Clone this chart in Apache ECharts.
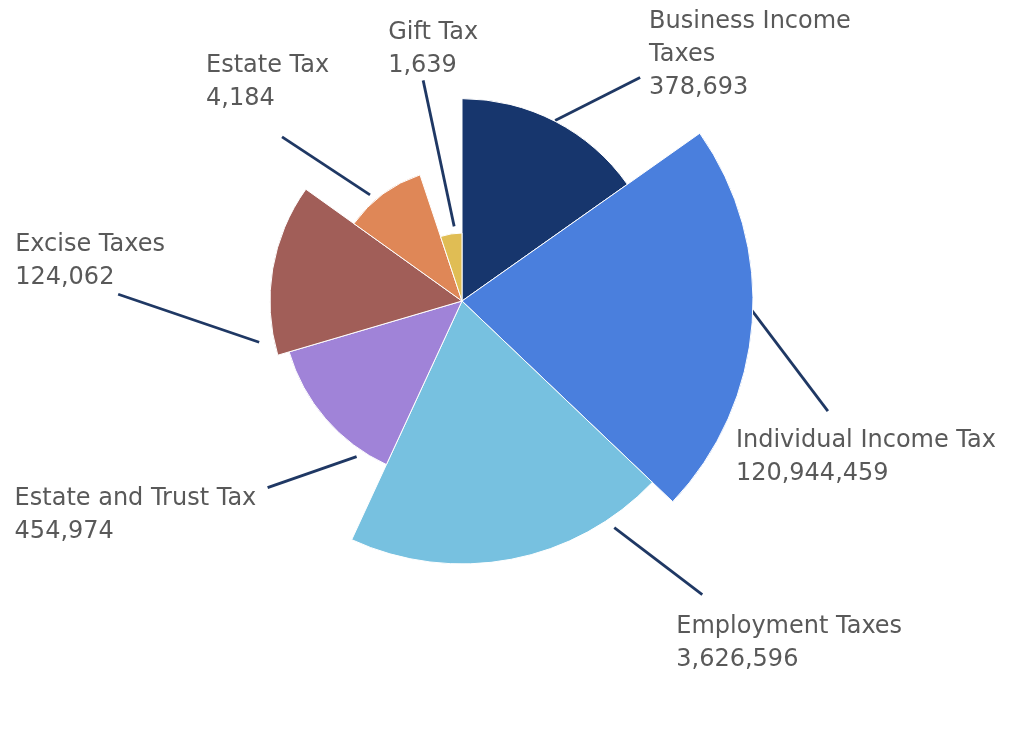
<!DOCTYPE html>
<html><head><meta charset="utf-8">
<script src="https://cdn.jsdelivr.net/npm/echarts@6/dist/echarts.min.js"></script>
<style>html,body{margin:0;padding:0;background:#fff}#chart{width:1024px;height:754px}</style>
</head><body><div id="chart"></div>
<script>
// ---- data ----
const categories = ['Business Income Taxes','Individual Income Tax','Employment Taxes','Estate and Trust Tax','Excise Taxes','Estate Tax','Gift Tax'];
const labelValues = [378693, 120944459, 3626596, 454974, 124062, 4184, 1639];
// relative slice size (sweep in degrees, rose radius follows it)
const sliceValues = [54.8, 78.8, 71.2, 48.8, 52.0, 36.0, 18.4];
const colors = ['#17366d','#4a7fdd','#77c1e0','#a083d8','#a15e58','#df8757','#e0bd54'];

// ---- layout ----
const CENTER = [462, 301];
const RADIUS = 291;
// leader line start (polar: angle from north clockwise, radius), line vector, text offset from line end
const labelPlacement = [
  {start:[27.3,203],  line:[85,-43],   text:[9,-72]},
  {start:[91.6,289],  line:[77,102],   text:[-92,13]},
  {start:[146.1,273], line:[88,67],    text:[-26,16]},
  {start:[214.1,188], line:[-89,31],   text:[-253,-5]},
  {start:[258.5,207], line:[-141,-48], text:[-103,-66]},
  {start:[319.1,140.5], line:[-88,-58], text:[-76,-88]},
  {start:[354,75],    line:[-31,-146], text:[-35,-64]}
];

const chart = echarts.init(document.getElementById('chart'), null, {renderer:'canvas'});
const data = categories.map((name, i) => ({name: name, value: sliceValues[i], itemStyle: {color: colors[i]}}));

chart.setOption({
  animation: false,
  backgroundColor: '#ffffff',
  series: [{
    type: 'pie',
    roseType: 'radius',
    center: CENTER,
    radius: [0, RADIUS],
    startAngle: 90,
    clockwise: true,
    avoidLabelOverlap: false,
    data: data,
    itemStyle: {borderColor: '#ffffff', borderWidth: 1},
    label: {
      show: true,
      position: 'outside',
      color: '#595959',
      fontFamily: 'DejaVu Sans',
      fontSize: 24,
      lineHeight: 33,
      width: 268,
      overflow: 'break',
      formatter: function (p) {
        return p.name + '\n' + labelValues[p.dataIndex].toLocaleString('en-US');
      }
    },
    labelLine: {
      show: true,
      length: 20,
      length2: 0,
      smooth: false,
      lineStyle: {color: '#1f3864', width: 2.8}
    },
    labelLayout: function (p) {
      const L = labelPlacement[p.dataIndex];
      const a = L.start[0] * Math.PI / 180;
      const sx = CENTER[0] + L.start[1] * Math.sin(a);
      const sy = CENTER[1] - L.start[1] * Math.cos(a);
      const ex = sx + L.line[0], ey = sy + L.line[1];
      return {
        x: ex + L.text[0],
        y: ey + L.text[1],
        align: 'left',
        verticalAlign: 'top',
        labelLinePoints: [[sx, sy], [ex, ey], [ex, ey]]
      };
    },
    emphasis: {disabled: true}
  }]
});
</script>
</body></html>
